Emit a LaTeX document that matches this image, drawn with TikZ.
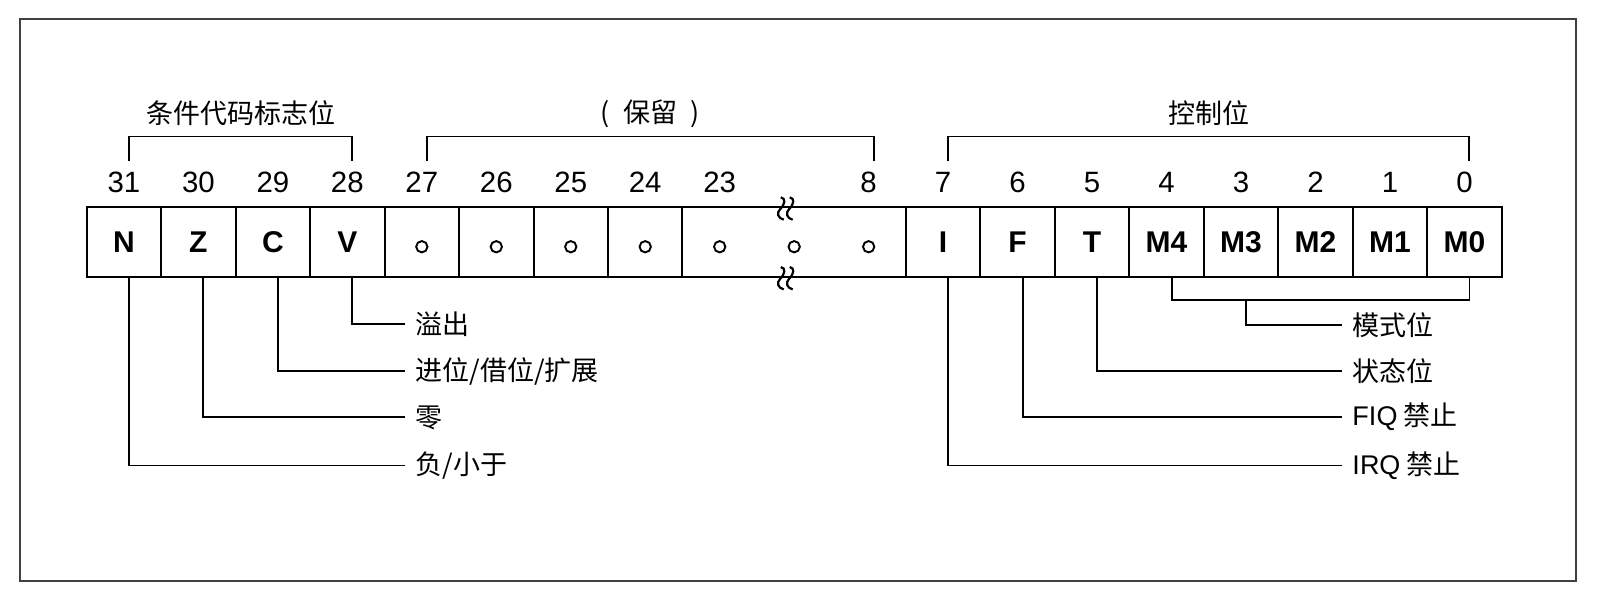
\documentclass[tikz,border=0pt]{standalone}
\usepackage{fontspec}
\setmainfont{Liberation Sans}
\newfontfamily\cjk{Noto Sans CJK SC}
\newfontfamily\lat{Liberation Sans}
\tikzset{
  cell/.style={draw, line width=1pt, minimum width=37.235pt, minimum height=34.85pt, inner sep=0pt, font=\fontsize{15}{18}\selectfont\bfseries},
  bitnum/.style={inner sep=0pt, font=\fontsize{14.7}{17}\selectfont},
  grp/.style={inner sep=0pt, font=\cjk\fontsize{13.5}{16}\selectfont},
  lbl/.style={anchor=west, inner sep=5pt, font=\cjk\fontsize{13.5}{16}\selectfont},
  link/.style={line width=0.95pt},
  dot/.style={line width=0.95pt},
  brk/.style={line width=1.1pt},
  frame/.style={draw=black!75, line width=1.1pt}
}
\begin{document}
\begin{tikzpicture}[x=37.235pt, y=37.235pt]
  \useasboundingbox (-1.164,2.780) rectangle (20.374,-5.224);
  \draw[frame] (-0.896,2.52) rectangle (20.0,-5.022);
  % register cells and bit numbers
  \foreach \x/\b/\t in {0/31/N, 1/30/Z, 2/29/C, 3/28/V, 4/27/{}, 5/26/{}, 6/25/{}, 7/24/{}, 11/7/I, 12/6/F, 13/5/T, 14/4/M4, 15/3/M3, 16/2/M2, 17/1/M1, 18/0/M0} {
    \node[cell] (b\b) at (\x+0.5,-0.468) {\t};
    \node[bitnum] (n\b) at (\x+0.5,0.333) {\b};
  }
  \node[cell, minimum width=111.705pt] (bres) at (9.5,-0.468) {};
  \node[bitnum] (n23) at (8.5,0.333) {23};
  \node[bitnum] (n8) at (10.5,0.333) {8};
  \foreach \x in {4,...,10}
    \draw[dot] (\x+0.5,-0.533) circle[radius=0.076];
  % break marks
  \foreach \y in {0,-0.936}
    \foreach \d in {9.33,9.45}
      \draw[brk] (\d-0.01,\y+0.13) .. controls (\d+0.06,\y+0.12) and (\d+0.05,\y+0.04) .. (\d-0.02,\y-0.03) .. controls (\d-0.07,\y-0.08) and (\d-0.05,\y-0.15) .. (\d+0.03,\y-0.17);
  % groups above
  \foreach \a/\b/\n/\t in {0/3/grpcc/条件代码标志位, 4/10/grpres/(\enspace 保留\enspace), 11/18/grpctl/控制位} {
    \draw[link] (\a+0.567,0.622) |- (\b+0.567,0.947) -- (\b+0.567,0.622);
    \node[grp] (\n) at ({(\a+\b)/2+0.567},1.257) {\t};
  }
  % flag labels, left
  \foreach \b/\y/\n/\t in {28/-1.575/ovf/溢出, 29/-2.206/carry/{进位/借位/扩展}, 30/-2.825/zero/零, 31/-3.471/neg/{负/小于}} {
    \node[lbl] (\n) at (4.276,\y) {\t};
    \draw[link] ([xshift=2.5pt]b\b.south) |- (\n.west);
  }
  % control labels, right
  \node[lbl] (mode) at (16.857,-1.585) {模式位};
  \node[lbl] (state) at (16.857,-2.2) {状态位};
  \node[lbl] (fiq) at (16.857,-2.82) {{\lat FIQ} 禁止};
  \node[lbl] (irq) at (16.857,-3.47) {{\lat IRQ} 禁止};
  \draw[link] ([xshift=2.5pt]b4.south) -- ++(0,-0.3) -| ([xshift=2.5pt]b0.south);
  \draw[link] ([xshift=2.5pt]b3.south) ++(0,-0.3) |- (mode.west);
  \draw[link] ([xshift=2.5pt]b5.south) |- (state.west);
  \draw[link] ([xshift=2.5pt]b6.south) |- (fiq.west);
  \draw[link] ([xshift=2.5pt]b7.south) |- (irq.west);
\end{tikzpicture}
\end{document}
